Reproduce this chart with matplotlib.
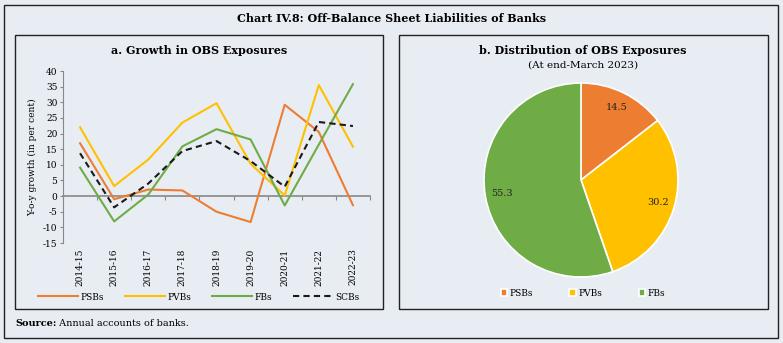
import numpy as np
import matplotlib.pyplot as plt
from matplotlib.patches import Rectangle
from matplotlib.text import Annotation

# Dados
years = ['2014-15', '2015-16', '2016-17', '2017-18', '2018-19',
         '2019-20', '2020-21', '2021-22', '2022-23']
psbs = [16.9, -1.0, 2.1, 1.8, -5.0, -8.3, 29.2, 20.5, -2.9]
pvbs = [22.0, 3.2, 11.7, 23.5, 29.7, 10.3, 0.2, 35.5, 15.8]
fbs = [9.1, -8.1, 0.5, 15.9, 21.4, 18.1, -3.0, 16.5, 35.8]
scbs = [13.7, -3.6, 4.0, 14.4, 17.6, 11.2, 3.0, 23.7, 22.4]

groups = ['PSBs', 'PVBs', 'FBs']
shares = [14.5, 30.2, 55.3]

orange = '#ED7D31'
yellow = '#FFC000'
green = '#6FAC46'
bg = '#E8EDF4'

plt.rcParams['font.family'] = 'DejaVu Serif'
plt.rcParams['axes.unicode_minus'] = False

W, H = 783, 343
fig = plt.figure(figsize=(7.83, 3.43), dpi=100)
fig.patch.set_facecolor(bg)


def box(x0, y0, x1, y1):
    # caixa em pixels (origem no topo)
    r = Rectangle((x0 / W, 1 - y1 / H), (x1 - x0) / W, (y1 - y0) / H,
                  transform=fig.transFigure, fill=False, ec='#222222', lw=1.0)
    fig.add_artist(r)


box(4, 5, 778, 338)
box(15, 35, 383, 309)
box(399, 35, 768, 309)

fig.text(392 / W, 1 - 18 / H, 'Chart IV.8: Off-Balance Sheet Liabilities of Banks',
         ha='center', va='center', fontsize=8, fontweight='bold')
fig.text(199 / W, 1 - 50 / H, 'a. Growth in OBS Exposures',
         ha='center', va='center', fontsize=8, fontweight='bold')
fig.text(583 / W, 1 - 50 / H, 'b. Distribution of OBS Exposures',
         ha='center', va='center', fontsize=8, fontweight='bold')
fig.text(583 / W, 1 - 65 / H, '(At end-March 2023)',
         ha='center', va='center', fontsize=7.5)
src = fig.text(15 / W, 1 - 324 / H, 'Source:', ha='left', va='center',
               fontsize=7, fontweight='bold')
fig.add_artist(Annotation(' Annual accounts of banks.', xy=(1, 0.5), xycoords=src,
                          ha='left', va='center', fontsize=7))

# Gráfico de linhas
ax = fig.add_axes([63 / W, 1 - 243 / H, 307 / W, 172 / H])
ax.set_facecolor('none')
x = np.arange(len(years))
ax.plot(x, psbs, color=orange, lw=1.5, label='PSBs')
ax.plot(x, pvbs, color=yellow, lw=1.5, label='PVBs')
ax.plot(x, fbs, color=green, lw=1.5, label='FBs')
ax.plot(x, scbs, color='#1a1a1a', lw=1.5, dashes=(3, 2), label='SCBs')
ax.set_xlim(-0.5, len(years) - 0.5)
ax.set_ylim(-15, 40)
ax.set_yticks(range(-15, 41, 5))
for s in ['top', 'right', 'bottom']:
    ax.spines[s].set_visible(False)
ax.spines['left'].set_color('#888888')
ax.tick_params(axis='y', length=2, color='#888888', labelsize=6.5, pad=2)
ax.set_xticks(x)
ax.set_xticklabels(years, rotation=90, fontsize=6.5)
ax.tick_params(axis='x', length=0, pad=4)
ax.set_ylabel('Y-o-y growth (in per cent)', fontsize=6.5, labelpad=4)

sec = ax.secondary_xaxis(15 / 55)
sec.set_xticks(np.arange(-0.5, len(years), 1))
sec.set_xticklabels([])
sec.tick_params(length=3, color='#888888')
sec.spines['bottom'].set_color('#888888')
sec.spines['bottom'].set_linewidth(1.2)

fig.legend(*ax.get_legend_handles_labels(), loc='center', ncol=4,
           bbox_to_anchor=(199 / W, 1 - 297 / H), frameon=False, fontsize=6.5,
           handlelength=4.4, handletextpad=0.3, columnspacing=2.3)

# Gráfico de pizza
pax = fig.add_axes([(581 - 97) / W, 1 - (180 + 97) / H, 194 / W, 194 / H])
wedges, texts, autotexts = pax.pie(
    shares, colors=[orange, yellow, green], startangle=90, counterclock=False,
    autopct='%.1f', pctdistance=0.83,
    wedgeprops=dict(edgecolor='white', linewidth=1.2),
    textprops=dict(fontsize=7, color='#222222'))
pax.set_xlim(-1, 1)
pax.set_ylim(-1, 1)

fig.legend(wedges, groups, loc='center', ncol=3,
           bbox_to_anchor=(583 / W, 1 - 293 / H), frameon=False, fontsize=6.5,
           handlelength=0.7, handleheight=0.7, handletextpad=0.3, columnspacing=4)

plt.savefig('out.png', dpi=100, facecolor=bg)
